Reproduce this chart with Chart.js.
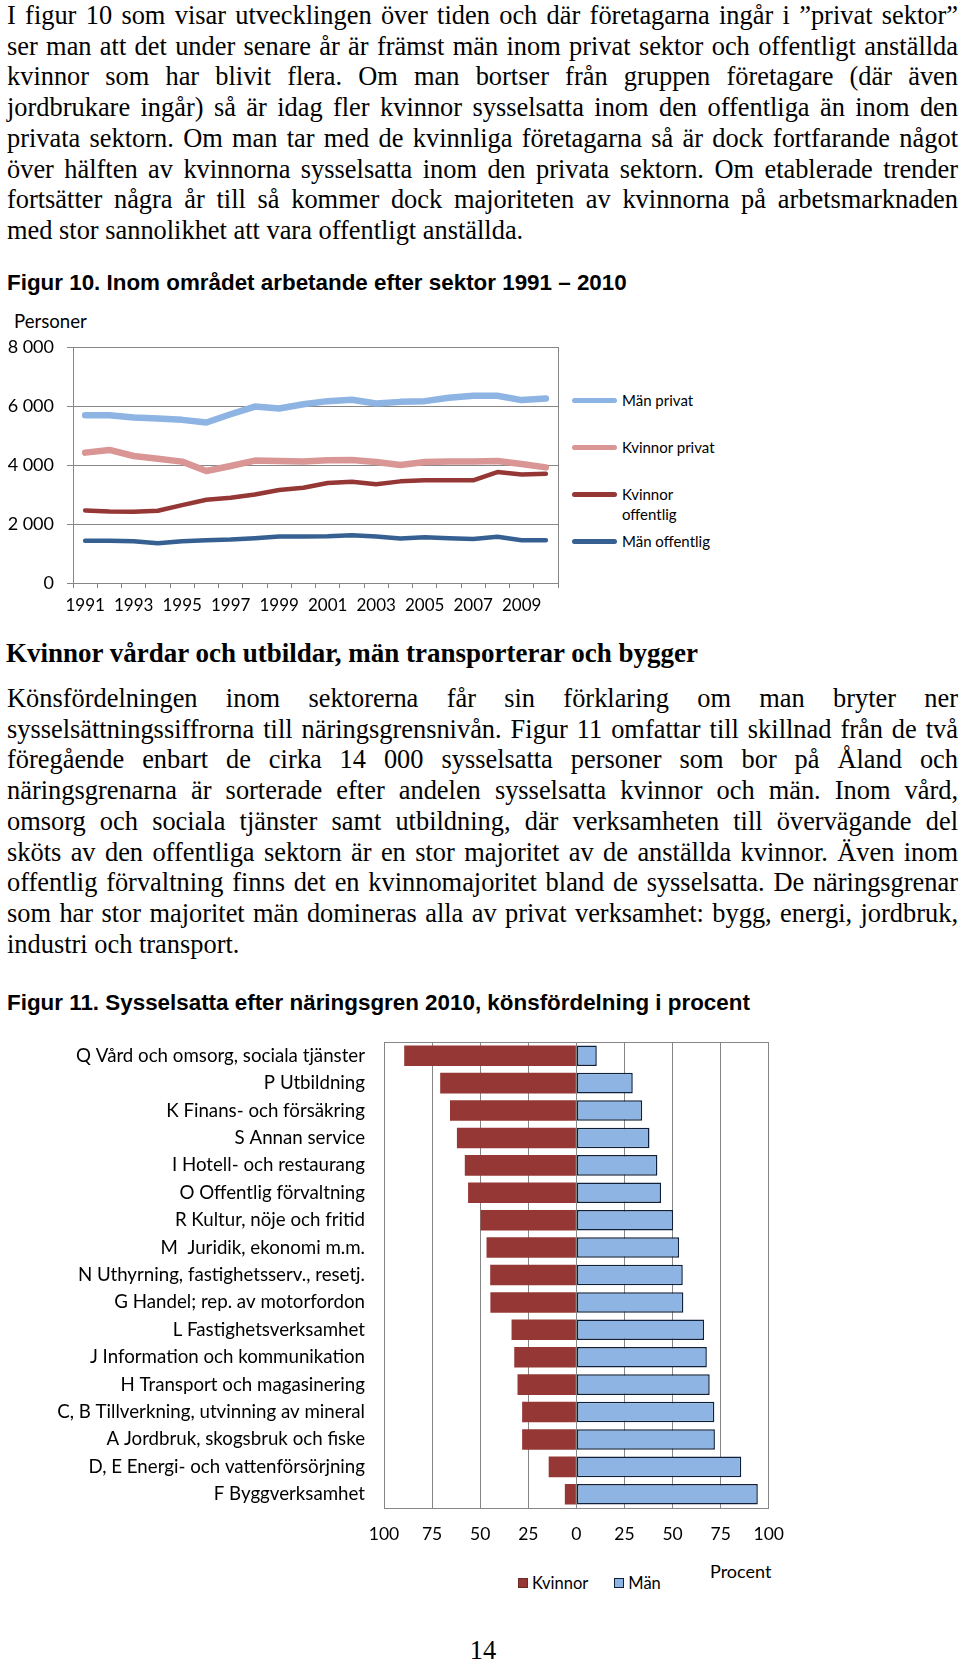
<!DOCTYPE html>
<html lang="sv">
<head>
<meta charset="utf-8">
<title>Figur 10 och 11</title>
<script src="https://cdn.jsdelivr.net/npm/chart.js@4.4.1/dist/chart.umd.min.js"></script>
<style>
  html, body { margin: 0; padding: 0; background: #fff; }
  body { width: 960px; height: 1662px; position: relative; overflow: hidden; color: #000; }
  .txt { position: absolute; left: 7px; width: 951px; font-family: 'Liberation Serif', 'Times New Roman', serif; font-size: 26.4px; line-height: 30.7px; }
  .txt .j { text-align: justify; text-align-last: justify; }
  .h-serif { position: absolute; left: 6px; font-family: 'Liberation Serif', serif; font-weight: bold; font-size: 27px; line-height: 30px; white-space: nowrap; }
  .caption { position: absolute; left: 7px; font-family: 'Liberation Sans', Arial, sans-serif; font-weight: bold; font-size: 22.4px; line-height: 26px; white-space: nowrap; }
  .lato { position: absolute; font-family: Lato, sans-serif; white-space: nowrap; }
  canvas { position: absolute; left: 0; }
  #legend1 { position: absolute; left: 572px; top: 390px; font-family: Lato, sans-serif; font-size: 15px; }
  .leg1-item { display: flex; align-items: flex-start; height: 47px; }
  .leg1-line { width: 45px; height: 4.5px; border-radius: 3px; margin-top: 8px; }
  .leg1-text { margin-left: 5px; width: 100px; line-height: 20px; }
  #legend2 { position: absolute; left: 518px; top: 1573px; display: flex; align-items: center; font-family: Lato, sans-serif; font-size: 16.5px; line-height: 20px; }
  .leg2-item { display: flex; align-items: center; margin-right: 26px; }
  .leg2-box { width: 8px; height: 8px; border: 1px solid; margin-right: 4px; }
</style>
</head>
<body>

<div class="txt" style="top:0px">
  <div class="j">I figur 10 som visar utvecklingen över tiden och där företagarna ingår i ”privat sektor”</div>
  <div class="j">ser man att det under senare år är främst män inom privat sektor och offentligt anställda</div>
  <div class="j">kvinnor som har blivit flera. Om man bortser från gruppen företagare (där även</div>
  <div class="j">jordbrukare ingår) så är idag fler kvinnor sysselsatta inom den offentliga än inom den</div>
  <div class="j">privata sektorn. Om man tar med de kvinnliga företagarna så är dock fortfarande något</div>
  <div class="j">över hälften av kvinnorna sysselsatta inom den privata sektorn. Om etablerade trender</div>
  <div class="j">fortsätter några år till så kommer dock majoriteten av kvinnorna på arbetsmarknaden</div>
  <div>med stor sannolikhet att vara offentligt anställda.</div>
</div>

<div class="caption" style="top:270px">Figur 10. Inom området arbetande efter sektor 1991 – 2010</div>

<div class="lato" style="left:14px; top:309px; font-size:18.6px; line-height:24px;">Personer</div>
<canvas id="fig10" width="562" height="290" style="top:330px"></canvas>
<div id="legend1"></div>

<div class="h-serif" style="top:638px">Kvinnor vårdar och utbildar, män transporterar och bygger</div>

<div class="txt" style="top:683px">
  <div class="j">Könsfördelningen inom sektorerna får sin förklaring om man bryter ner</div>
  <div class="j">sysselsättningssiffrorna till näringsgrensnivån. Figur 11 omfattar till skillnad från de två</div>
  <div class="j">föregående enbart de cirka 14&nbsp;000 sysselsatta personer som bor på Åland och</div>
  <div class="j">näringsgrenarna är sorterade efter andelen sysselsatta kvinnor och män. Inom vård,</div>
  <div class="j">omsorg och sociala tjänster samt utbildning, där verksamheten till övervägande del</div>
  <div class="j">sköts av den offentliga sektorn är en stor majoritet av de anställda kvinnor. Även inom</div>
  <div class="j">offentlig förvaltning finns det en kvinnomajoritet bland de sysselsatta. De näringsgrenar</div>
  <div class="j">som har stor majoritet män domineras alla av privat verksamhet: bygg, energi, jordbruk,</div>
  <div>industri och transport.</div>
</div>

<div class="caption" style="top:990px">Figur 11. Sysselsatta efter näringsgren 2010, könsfördelning i procent</div>

<canvas id="fig11" width="800" height="530" style="top:1030px"></canvas>
<div class="lato" style="left:710px; top:1560px; font-size:18px; line-height:22px;">Procent</div>
<div id="legend2"></div>

<div class="txt" style="top:1635px; left:462px; width:42px; text-align:center;">14</div>

<script>
// Figur 10: arbetande efter sektor (personer)
const years = ['1991', '1992', '1993', '1994', '1995', '1996', '1997', '1998', '1999', '2000',
               '2001', '2002', '2003', '2004', '2005', '2006', '2007', '2008', '2009', '2010'];
const manPrivat = [5690, 5690, 5610, 5575, 5530, 5440, 5720, 5980, 5915, 6060,
                   6165, 6210, 6085, 6140, 6165, 6280, 6345, 6345, 6200, 6255];
const kvinnorPrivat = [4420, 4510, 4305, 4215, 4115, 3795, 3965, 4150, 4135, 4115,
                       4160, 4170, 4100, 4000, 4100, 4115, 4115, 4135, 4035, 3920];
const kvinnorOffentlig = [2460, 2425, 2415, 2450, 2640, 2820, 2890, 3000, 3150, 3230,
                          3390, 3435, 3345, 3445, 3480, 3480, 3480, 3760, 3680, 3705];
const manOffentlig = [1430, 1430, 1415, 1350, 1415, 1450, 1475, 1520, 1575, 1575,
                      1585, 1620, 1575, 1505, 1550, 1520, 1495, 1565, 1450, 1450];
const yMax = 8000;
const yStep = 2000;

// Figur 11: könsfördelning per näringsgren 2010 (procent)
const branscher = [
  'Q Vård och omsorg, sociala tjänster',
  'P Utbildning',
  'K Finans- och försäkring',
  'S Annan service',
  'I Hotell- och restaurang',
  'O Offentlig förvaltning',
  'R Kultur, nöje och fritid',
  'M  Juridik, ekonomi m.m.',
  'N Uthyrning, fastighetsserv., resetj.',
  'G Handel; rep. av motorfordon',
  'L Fastighetsverksamhet',
  'J Information och kommunikation',
  'H Transport och magasinering',
  'C, B Tillverkning, utvinning av mineral',
  'A Jordbruk, skogsbruk och fiske',
  'D, E Energi- och vattenförsörjning',
  'F Byggverksamhet'
];
const kvinnor = [89.5, 70.8, 65.7, 62.1, 58.0, 56.3, 49.8, 46.7, 44.8, 44.7, 33.7, 32.3, 30.6, 28.2, 28.2, 14.4, 6.0];
const man = [10.6, 29.3, 34.2, 38.0, 42.1, 44.0, 50.3, 53.4, 55.3, 55.6, 66.4, 67.8, 69.3, 71.7, 72.0, 85.7, 94.3];
const pctStep = 25;

Chart.defaults.font.family = 'Lato, sans-serif';
Chart.defaults.color = '#000';

const gridGrey = '#868686';

// Excel-style frame round the plot area
const plotFrame = {
  id: 'plotFrame',
  beforeDatasetsDraw(chart) {
    const { ctx, chartArea: a } = chart;
    const al = p => Math.round(p - 0.5) + 0.5;
    ctx.save();
    ctx.strokeStyle = gridGrey;
    ctx.lineWidth = 1;
    ctx.strokeRect(al(a.left), al(a.top), al(a.right) - al(a.left), al(a.bottom) - al(a.top));
    ctx.restore();
  }
};

const thousands = v => String(v).replace(/\B(?=(\d{3})+(?!\d))/g, ' ');

// fixed axis width, and no extra top/bottom room for the labels (layout padding handles it)
const fixWidth = w => s => { s.width = w; s.paddingTop = 0; s.paddingBottom = 0; };

const lineChart = new Chart(document.getElementById('fig10'), {
  type: 'line',
  data: {
    labels: years,
    datasets: [
      { label: 'Män privat', data: manPrivat, borderColor: '#8EB4E3', borderWidth: 6.5 },
      { label: 'Kvinnor privat', data: kvinnorPrivat, borderColor: '#D99694', borderWidth: 6.5 },
      { label: 'Kvinnor offentlig', data: kvinnorOffentlig, borderColor: '#953735', borderWidth: 4.5 },
      { label: 'Män offentlig', data: manOffentlig, borderColor: '#376092', borderWidth: 4.5 }
    ]
  },
  options: {
    responsive: false,
    animation: false,
    layout: { padding: { top: 17, right: 4, left: 0, bottom: 0 } },
    elements: {
      point: { radius: 0 },
      line: { tension: 0, borderCapStyle: 'round', borderJoinStyle: 'round' }
    },
    plugins: { legend: { display: false }, tooltip: { enabled: false } },
    scales: {
      x: {
        offset: true,
        grid: { offset: true, drawOnChartArea: false, tickLength: 5, color: gridGrey },
        border: { color: gridGrey },
        ticks: {
          autoSkip: false, maxRotation: 0, padding: 7, font: { size: 17 },
          callback(v, i) { return i % 2 === 0 ? this.getLabelForValue(v) : ''; }
        },
        afterFit: s => { s.height = 37; }
      },
      y: {
        min: 0, max: yMax,
        ticks: { stepSize: yStep, padding: 13, font: { size: 18 }, callback: v => thousands(v) },
        grid: { color: gridGrey, tickLength: 6 },
        border: { color: gridGrey },
        afterFit: fixWidth(73)
      }
    }
  },
  plugins: [plotFrame]
});

// legend for Figur 10, to the right of the plot
const legend1 = document.getElementById('legend1');
lineChart.data.datasets.forEach(ds => {
  const item = document.createElement('div');
  item.className = 'leg1-item';
  const sw = document.createElement('span');
  sw.className = 'leg1-line';
  sw.style.background = ds.borderColor;
  const tx = document.createElement('span');
  tx.className = 'leg1-text';
  tx.textContent = ds.label;
  item.append(sw, tx);
  legend1.appendChild(item);
});

const barChart = new Chart(document.getElementById('fig11'), {
  type: 'bar',
  data: {
    labels: branscher,
    datasets: [
      { label: 'Kvinnor', data: kvinnor.map(v => -v), backgroundColor: '#953735', borderColor: '#6f2826', borderWidth: 0 },
      { label: 'Män', data: man, backgroundColor: '#8DB4E2', borderColor: '#10203a', borderWidth: 1.5, borderSkipped: false }
    ]
  },
  options: {
    indexAxis: 'y',
    responsive: false,
    animation: false,
    layout: { padding: { top: 12, right: 26, left: 0, bottom: 0 } },
    datasets: { bar: { categoryPercentage: 1, barPercentage: 0.75 } },
    plugins: { legend: { display: false }, tooltip: { enabled: false } },
    scales: {
      x: {
        stacked: true, min: -100, max: 100,
        ticks: { stepSize: pctStep, padding: 16, font: { size: 17.5 }, callback: v => Math.abs(v) },
        grid: { color: gridGrey, drawTicks: false },
        border: { color: gridGrey },
        afterFit: s => { s.height = 52; }
      },
      y: {
        stacked: true,
        grid: { display: false, drawTicks: false },
        border: { color: gridGrey },
        ticks: { autoSkip: false, padding: 19, font: { size: 18.7 } },
        afterFit: fixWidth(384)
      }
    }
  },
  plugins: [plotFrame]
});

// legend for Figur 11
const legend2 = document.getElementById('legend2');
barChart.data.datasets.forEach(ds => {
  const item = document.createElement('div');
  item.className = 'leg2-item';
  const sq = document.createElement('span');
  sq.className = 'leg2-box';
  sq.style.background = ds.backgroundColor;
  sq.style.borderColor = ds.borderColor;
  const tx = document.createElement('span');
  tx.textContent = ds.label;
  item.append(sq, tx);
  legend2.appendChild(item);
});
</script>
</body>
</html>
